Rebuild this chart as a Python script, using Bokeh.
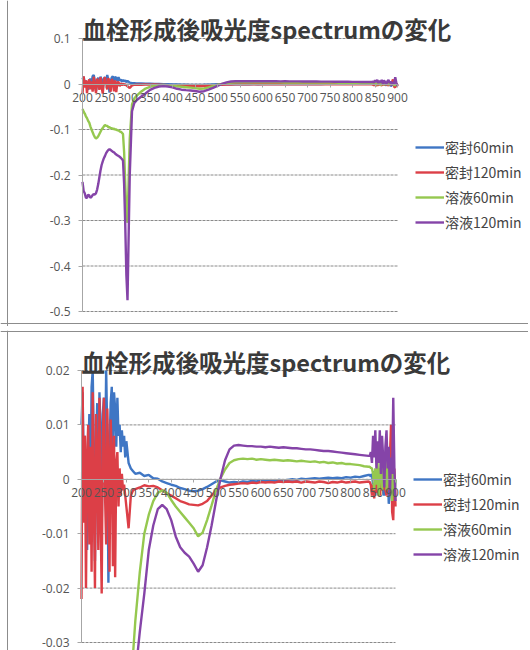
from bokeh.plotting import figure
from bokeh.models import Range1d, Legend, LegendItem, FixedTicker, CustomJSTickFormatter, Label, Span
from bokeh.layouts import column
from bokeh.embed import file_html
from bokeh.resources import INLINE

# wavelengths (nm): finer sampling where the spectra are noisy
wl = ([200 + 2.5 * i for i in range(41)] + [305, 310, 315, 320]
      + list(range(330, 841, 10)) + [842.5 + 2.5 * i for i in range(24)])

seal_60 = [
    0.010, 0.016, 0.002, 0.008, -0.006, -0.013, 0.004, 0.012, -0.002, 0.017,
    0.020, 0.006, -0.015, 0.004, 0.014, -0.005, 0.016, 0.009, -0.010, 0.012,
    0.015, 0.003, 0.020, 0.008, -0.019, 0.006, 0.014, 0.017, 0.004, 0.016,
    0.013, 0.006, 0.015, 0.008, 0.010, 0.005, 0.009, 0.006, 0.008, 0.004,
    0.007,
    0.003, 0.002, 0.0015, 0.001,
    0.0012, 0.0006, 0.0008, 0.0002, 0.0001, -0.0004, -0.0007, -0.001, -0.0012, -0.0016,
    -0.0018, -0.0021, -0.0022, -0.0021, -0.0018, -0.0014, -0.0009, -0.0004, -0.0002, -0.0004,
    -0.0006, -0.0005, -0.0006, -0.0004, -0.0005, -0.0003, -0.0004, -0.0002, -0.0003, -0.0002,
    -0.0003, -0.0001, -0.0002, -0.0001, 0.0, -0.0001, 0.0001, 0.0, 0.0001, 0.0002,
    0.0001, 0.0002, 0.0003, 0.0002, 0.0003, 0.0002, 0.0004, 0.0003, 0.0005, 0.0004,
    0.0006, 0.0008,
    0.0008, 0.0005, 0.001, -0.001, 0.0015, -0.003, 0.001, -0.001, 0.002, -0.002,
    0.001, 0.002, -0.001, -0.003, 0.001, -0.001, 0.002, -0.0045, -0.002, 0.002,
    -0.004, 0.001, -0.003, 0.0,
]

seal_120 = [
    -0.022, 0.017, -0.008, 0.008, -0.020, 0.004, 0.010, -0.012, 0.006, -0.017,
    0.016, -0.004, -0.020, 0.012, 0.004, -0.013, 0.015, -0.006, -0.021, 0.008,
    0.015, -0.003, -0.012, 0.013, 0.002, -0.017, 0.011, 0.005, -0.016, 0.008,
    -0.018, 0.003, 0.005, -0.005, 0.002, -0.003, 0.001, -0.002, -0.001, -0.003,
    -0.005,
    -0.009, -0.003, -0.002, -0.0018,
    -0.0015, -0.0011, -0.0013, -0.0012, -0.0015, -0.002, -0.0026, -0.003, -0.0035, -0.004,
    -0.0043, -0.0046, -0.0047, -0.0048, -0.0045, -0.004, -0.003, -0.002, -0.0015, -0.0012,
    -0.001, -0.0009, -0.0008, -0.0007, -0.0008, -0.0006, -0.0007, -0.0005, -0.0006, -0.0005,
    -0.0006, -0.0004, -0.0005, -0.0004, -0.0005, -0.0004, -0.0006, -0.0004, -0.0005, -0.0006,
    -0.0004, -0.0005, -0.0007, -0.0005, -0.0006, -0.0004, -0.0006, -0.0005, -0.0004, -0.0006,
    -0.0005, -0.0004,
    -0.0005, -0.001, -0.003, -0.001, -0.0035, -0.001, -0.0025, 0.0005, -0.002, -0.003,
    0.001, -0.002, -0.0015, 0.001, -0.002, -0.003, 0.0005, -0.002, 0.004, 0.010,
    -0.006, -0.0075, 0.002, -0.005,
]

sol_60 = [
    -0.055, -0.061, -0.065, -0.071, -0.075, -0.081, -0.085, -0.093, -0.100, -0.106,
    -0.112, -0.117, -0.120, -0.118, -0.115, -0.110, -0.105, -0.100, -0.097, -0.093,
    -0.090, -0.092, -0.092, -0.095, -0.095, -0.097, -0.097, -0.099, -0.098, -0.100,
    -0.100, -0.102, -0.102, -0.104, -0.105, -0.107, -0.110, -0.150, -0.220, -0.280,
    -0.305,
    -0.120, -0.045, -0.032, -0.026,
    -0.017, -0.010, -0.0065, -0.004, -0.0025, -0.002, -0.0025, -0.0038, -0.005, -0.006,
    -0.007, -0.008, -0.009, -0.0105, -0.0098, -0.0075, -0.0048, -0.002, 0.0002, 0.0018,
    0.003, 0.0035, 0.0037, 0.0038, 0.0037, 0.0038, 0.0036, 0.0037, 0.0036, 0.0035,
    0.0036, 0.0035, 0.0034, 0.0035, 0.0034, 0.0033, 0.0034, 0.0033, 0.0032, 0.0033,
    0.0031, 0.0032, 0.003, 0.0031, 0.0029, 0.003, 0.0028, 0.0028, 0.0027, 0.0026,
    0.0024, 0.0023,
    0.0023, 0.0021, 0.002, 0.001, -0.002, 0.002, -0.001, 0.003, -0.003, 0.001,
    0.003, -0.002, 0.002, -0.001, 0.004, -0.002, 0.001, 0.003, -0.002, 0.003,
    -0.004, 0.002, -0.003, 0.0,
]

sol_120 = [
    -0.215, -0.235, -0.240, -0.250, -0.250, -0.243, -0.245, -0.250, -0.248, -0.244,
    -0.242, -0.243, -0.240, -0.232, -0.220, -0.205, -0.190, -0.178, -0.170, -0.163,
    -0.158, -0.152, -0.148, -0.145, -0.143, -0.145, -0.147, -0.149, -0.150, -0.153,
    -0.155, -0.157, -0.158, -0.160, -0.162, -0.165, -0.168, -0.220, -0.310, -0.420,
    -0.475,
    -0.200, -0.060, -0.042, -0.036,
    -0.028, -0.021, -0.013, -0.0085, -0.0055, -0.0047, -0.0055, -0.0075, -0.0105, -0.0125,
    -0.0135, -0.0142, -0.0155, -0.017, -0.0158, -0.0125, -0.0085, -0.004, 0.0002, 0.0035,
    0.0055, 0.0062, 0.0063, 0.0062, 0.0061, 0.0061, 0.006, 0.006, 0.0059, 0.006,
    0.0059, 0.0058, 0.0059, 0.0058, 0.0057, 0.0057, 0.0056, 0.0055, 0.0055, 0.0054,
    0.0053, 0.0052, 0.0052, 0.0051, 0.005, 0.0049, 0.0048, 0.0047, 0.0046, 0.0045,
    0.0044, 0.0043,
    0.0043, 0.005, 0.003, 0.008, 0.004, 0.009, 0.002, 0.007, 0.003, 0.009,
    0.001, 0.008, 0.004, -0.0015, 0.006, 0.009, 0.002, 0.006, -0.003, 0.004,
    0.001, 0.015, 0.002, -0.004,
]

series_names = ["密封60min", "密封120min", "溶液60min", "溶液120min"]
series_values = [seal_60, seal_120, sol_60, sol_120]
series_colors = ["#3F76C4", "#DC3F47", "#95C84F", "#8544A8"]

x_ticks = list(range(200, 901, 50))
y_ticks_top = [0.1, 0, -0.1, -0.2, -0.3, -0.4, -0.5]
y_ticks_bottom = [0.02, 0.01, 0, -0.01, -0.02, -0.03]

title_text = "血栓形成後吸光度spectrumの変化"
CJK = "Noto Sans CJK JP"
NUM = "Open Sans"
W = 528


def x_range_for(px_lo, px_hi):
    # pixel columns of x=200 and x=900 inside a figure W px wide
    lo, hi = x_ticks[0], x_ticks[-1]
    s = (px_hi - px_lo) / (hi - lo)
    return Range1d(lo - px_lo / s, lo + (W - px_lo) / s)


def y_range_for(ticks, px_top, px_bot, total):
    top, bot = max(ticks), min(ticks)
    s = (px_bot - px_top) / (top - bot)
    return Range1d(bot - (total - px_bot) / s, top + px_top / s)


def make_chart(y_ticks, height, px_x, px_y, title_xy, legend_xy, border_y):
    p = figure(width=W, height=height, output_backend="svg", toolbar_location=None,
               x_range=x_range_for(*px_x), y_range=y_range_for(y_ticks, px_y[0], px_y[1], height),
               min_border_left=0, min_border_right=0, min_border_top=0, min_border_bottom=0)
    p.outline_line_color = None
    p.background_fill_color = "white"
    p.border_fill_color = "white"
    p.xgrid.visible = False
    p.ygrid.visible = False

    # chart-area frame edges (left and top/bottom)
    p.add_layout(Span(location=7, dimension="height", location_units="screen",
                      line_color="#8c8c8c", line_width=1))
    p.add_layout(Span(location=height - border_y, dimension="width", location_units="screen",
                      line_color="#8c8c8c", line_width=1))

    # dashed horizontal gridlines spanning the x axis only
    p.segment(x0=[x_ticks[0]] * len(y_ticks), x1=[x_ticks[-1]] * len(y_ticks),
              y0=y_ticks, y1=y_ticks, line_color="#8a8a8a", line_dash="3 1", line_width=1)

    renderers = []
    for vals, col in zip(series_values, series_colors):
        r = p.line(wl, vals, line_color=col, line_width=2.4)
        renderers.append(r)

    ax = p.yaxis[0]
    ax.fixed_location = x_ticks[0]
    ax.bounds = (min(y_ticks), max(y_ticks))
    ax.ticker = FixedTicker(ticks=y_ticks)
    ax.formatter = CustomJSTickFormatter(code="return tick === 0 ? '0' : String(+tick.toFixed(4));")
    ax.axis_line_color = "#a6a6a6"
    ax.major_tick_line_color = "#a6a6a6"
    ax.major_tick_out = 4
    ax.major_tick_in = 0
    ax.minor_tick_line_color = None
    ax.major_label_text_font = NUM
    ax.major_label_text_font_size = "12px"
    ax.major_label_text_color = "#555555"
    ax.major_label_standoff = 8

    bx = p.xaxis[0]
    bx.fixed_location = 0
    bx.bounds = (x_ticks[0], x_ticks[-1])
    bx.ticker = FixedTicker(ticks=x_ticks)
    bx.axis_line_color = "#a6a6a6"
    bx.major_tick_line_color = "#a6a6a6"
    bx.major_tick_out = 3
    bx.major_tick_in = 0
    bx.minor_tick_line_color = None
    bx.major_label_text_font = NUM
    bx.major_label_text_font_size = "12px"
    bx.major_label_text_color = "#555555"
    bx.major_label_standoff = 6

    p.add_layout(Label(x=title_xy[0], y=height - title_xy[1], x_units="screen", y_units="screen",
                       text=title_text, text_font=CJK, text_font_size="23.5px",
                       text_font_style="bold", text_color="#3a3a3a",
                       text_align="left", text_baseline="middle"))

    legend = Legend(items=[LegendItem(label=n, renderers=[r]) for n, r in zip(series_names, renderers)],
                    location=(legend_xy[0], height - legend_xy[1]), glyph_width=29, glyph_height=20,
                    label_height=20, spacing=5, padding=0, margin=0, label_standoff=1,
                    border_line_alpha=0, background_fill_alpha=0,
                    label_text_font=CJK, label_text_font_size="14px", label_text_color="#444444")
    p.add_layout(legend, "center")
    return p


p1 = make_chart(y_ticks_top, 326, (82, 397), (38, 311), (82, 28), (415, 232), 323)
p2 = make_chart(y_ticks_bottom, 320, (81, 395), (40, 312), (81, 31), (413, 234), 1)

page = column(p1, p2, spacing=4)
open("out.html", "w").write(file_html(page, INLINE))
